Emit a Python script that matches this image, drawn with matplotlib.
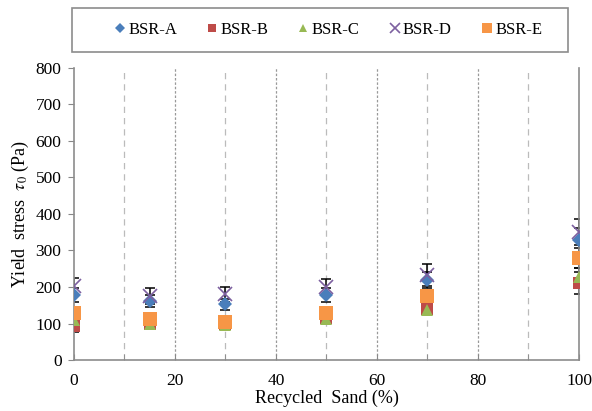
import matplotlib
matplotlib.use('Agg')
import matplotlib.pyplot as plt
from matplotlib.patches import Rectangle
from matplotlib.ticker import MultipleLocator

plt.rcParams['font.family'] = ['Liberation Serif', 'DejaVu Serif']
plt.rcParams['mathtext.fontset'] = 'stix'

sand = [0, 15, 30, 50, 70, 100]
names = ['BSR-A', 'BSR-B', 'BSR-C', 'BSR-D', 'BSR-E']
bsr_a = [178, 162, 153, 178, 218, 328]
bsr_b = [93, 98, 100, 115, 140, 212]
bsr_c = [110, 100, 95, 112, 138, 228]
bsr_d = [203, 175, 180, 200, 232, 350]
bsr_e = [130, 112, 105, 128, 175, 280]
err_a = [18, 16, 15, 18, 22, 33]
err_b = [15, 14, 14, 15, 15, 30]
err_c = [12, 12, 12, 13, 14, 25]
err_d = [22, 22, 20, 22, 30, 35]
err_e = [15, 14, 14, 15, 17, 28]

series = [bsr_a, bsr_b, bsr_c, bsr_d, bsr_e]
errors = [err_a, err_b, err_c, err_d, err_e]
colors = ['#4a7ebb', '#be4b48', '#98b954', '#7d60a0', '#f79646']
markers = ['D', 's', '^', 'x', 's']
sizes = [7, 9, 8, 10, 10]

fig = plt.figure(figsize=(5.92, 4.11), dpi=100)
ax = fig.add_axes([0.125, 0.124, 0.853, 0.711])

for x in [10, 30, 50, 70, 90]:
    ax.axvline(x, color='#bbbbbb', linestyle=(0, (5, 4)), linewidth=0.9, zorder=0)
for x in [20, 40, 60, 80]:
    ax.axvline(x, color='#999999', linestyle=(0, (2, 1.5)), linewidth=0.9, zorder=0)

for vals, err in zip(series, errors):
    ax.errorbar(sand, vals, yerr=err, fmt='none', ecolor='black', elinewidth=1.1,
                capsize=3.5, capthick=1.1, zorder=2)
for vals, name, c, m, s in zip(series, names, colors, markers, sizes):
    ax.plot(sand, vals, linestyle='none', marker=m, color=c, markersize=s,
            markeredgewidth=1.2 if m == 'x' else 0, label=name, zorder=3)

ax.set_xlim(0, 100)
ax.set_ylim(0, 800)
ax.xaxis.set_major_locator(MultipleLocator(20))
ax.xaxis.set_minor_locator(MultipleLocator(10))
ax.yaxis.set_major_locator(MultipleLocator(100))
ax.tick_params(axis='x', direction='in', length=4, which='both', color='#888888', labelsize=12.5, pad=9)
ax.tick_params(axis='y', direction='out', length=4, color='#888888', labelsize=12.5, pad=5)
for sp in ['top', 'right', 'bottom', 'left']:
    ax.spines[sp].set_color('#8c8c8c')
    ax.spines[sp].set_linewidth(1.2)
ax.spines['top'].set_visible(False)

ax.set_xlabel('Recycled  Sand (%)', fontsize=13, labelpad=1)
ax.set_ylabel(r'Yield  stress  $\tau_0$ (Pa)', fontsize=13, labelpad=3)

# legend frame drawn on its own, entries placed inside
fig.patches.append(Rectangle((72 / 592, 1 - 52 / 411), 496 / 592, 44 / 411,
                             transform=fig.transFigure, fill=False,
                             edgecolor='#8c8c8c', linewidth=1.2))
fig.legend(loc='center', bbox_to_anchor=(0.553, 1 - 30 / 411), ncol=5, frameon=False,
           fontsize=12, handletextpad=0.05, columnspacing=1.65, markerscale=0.7,
           handlelength=0.9, borderaxespad=0)

fig.savefig('out.png', dpi=100)
